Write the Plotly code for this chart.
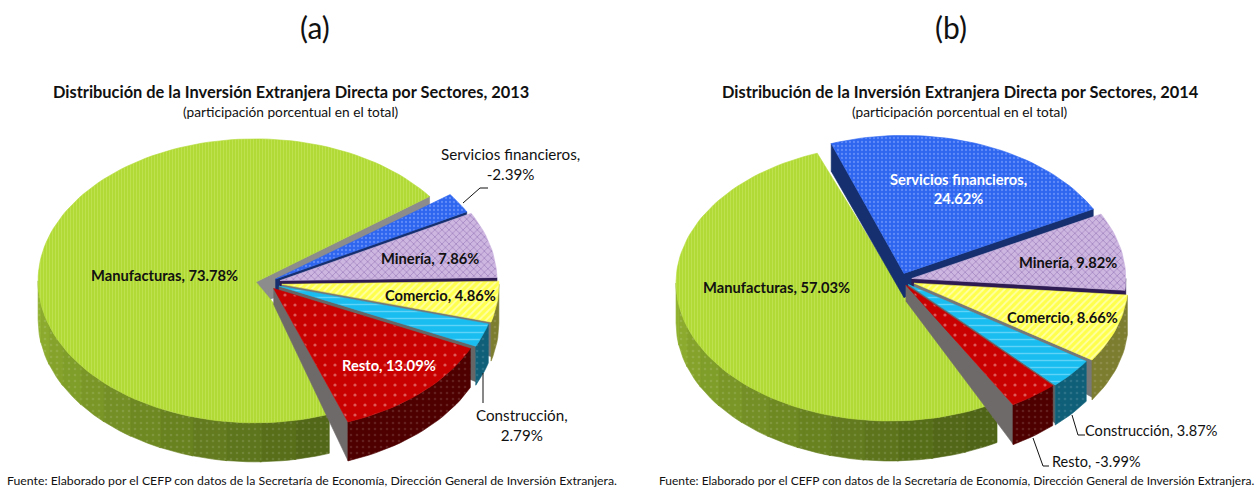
import math
import plotly.graph_objects as go

# ---- data ----
categories = ["Manufacturas", "Servicios financieros", "Minería", "Comercio", "Construcción", "Resto"]
values_2013 = [73.78, -2.39, 7.86, 4.86, 2.79, 13.09]
values_2014 = [57.03, 24.62, 9.82, 8.66, 3.87, -3.99]
panel_marks = ["(a)", "(b)"]
chart_titles = ["Distribución de la Inversión Extranjera Directa por Sectores, 2013",
                "Distribución de la Inversión Extranjera Directa por Sectores, 2014"]
subtitle = "(participación porcentual en el total)"
source = "Fuente: Elaborado por el CEFP con datos de la Secretaría de Economía, Dirección General de Inversión Extranjera."

# ---- styles per category ----
top_colors = ["#b2da36", "#2f66f0", "#cdb6e0", "#ffff4d", "#19bdf0", "#c80000"]
wall_colors = ["#6f8c22", "#1c3a8c", "#2d1b52", "#7d7d30", "#0f5f78", "#4e0000"]
face_colors = ["#8c8c8c", "#16306f", "#2d1b52", "#777777", "#666666", "#6e6a6a"]
patterns = [
    dict(shape="|", fgcolor="#c9e86a", size=3, solidity=0.35),
    dict(shape=".", fgcolor="#8fb0ff", size=4, solidity=0.25),
    dict(shape="x", fgcolor="#7e5aa6", size=5, solidity=0.3),
    dict(shape="/", fgcolor="#ffffff", size=5, solidity=0.35),
    dict(shape="-", fgcolor="#a8ecff", size=7, solidity=0.2),
    dict(shape=".", fgcolor="#f4b0b0", size=10, solidity=0.08),
]
wall_pattern = dict(shape=".", fgcolor="#ffffff", fgopacity=0.12, size=6, solidity=0.15)

# ---- panel geometry (pixels of the page) ----
panels = [
    dict(values=values_2013, cx=266, cy=283, rx=217, ry=142, depth=39,
         explode=[11.4, 11.4, 14.5, 16, 14, 11.4], start=-70.0, main_apex=(256, 282), notch=(276, 306)),
    dict(values=values_2014, cx=900, cy=280, rx=214, ry=138, depth=40,
         explode=[11, 11, 12, 15, 11, 10], start=-60.0, main_apex=(905, 297), notch=None),
]

fig = go.Figure()


def mix(c1, c2, t):
    a = [int(c1[i:i + 2], 16) for i in (1, 3, 5)]
    b = [int(c2[i:i + 2], 16) for i in (1, 3, 5)]
    return "#%02x%02x%02x" % tuple(round(a[i] + (b[i] - a[i]) * t) for i in range(3))


def poly(xs, ys, color, name, pattern=None):
    fig.add_trace(go.Scatter(
        x=xs + xs[:1], y=ys + ys[:1], mode="lines", fill="toself", fillcolor=color,
        line=dict(color=color, width=0.6), fillpattern=pattern,
        name=name, hoverinfo="skip", showlegend=False))


def arc(c, r, a0, a1):
    n = max(2, int(abs(a0 - a1) / 2) + 1)
    out = []
    for i in range(n + 1):
        a = math.radians(a0 + (a1 - a0) * i / n)
        out.append((c[0] + r[0] * math.cos(a), c[1] - r[1] * math.sin(a)))
    return out


def draw_pie(pn):
    vals = pn["values"]
    total = sum(abs(v) for v in vals)
    a = pn["start"]
    r = (pn["rx"], pn["ry"])
    d = pn["depth"]
    ratio = pn["ry"] / pn["rx"]
    # clockwise from the start angle, in the order of the sectors
    for i, v in enumerate(vals):
        a0 = a
        a1 = a - abs(v) / total * 360
        a = a1
        mid = math.radians((a0 + a1) / 2)
        ex = pn["explode"][i]
        c = (pn["cx"] + ex * math.cos(mid), pn["cy"] - ex * ratio * math.sin(mid))
        apex = pn["main_apex"] if i == 0 else c
        name = categories[i]
        # cut faces: shallow at the apex, as deep as the rim further out
        for edge, visible in ((a0, math.cos(math.radians(a0)) < 0),
                              (a1, math.cos(math.radians(a1)) > 0)):
            if visible:
                s = math.sin(math.radians(edge))
                e = (c[0] + r[0] * math.cos(math.radians(edge)), c[1] - r[1] * s)
                rim_d = d * (1 - 0.16 * (1 + s))
                apex_d = 24 if s > 0 else 16
                poly([apex[0], e[0], e[0], apex[0]], [apex[1], e[1], e[1] + rim_d, apex[1] + apex_d],
                     face_colors[i], name + " cara")
        # outer wall: only the part below the horizontal is seen
        for base in (0, -360):
            hi = min(a0, base)
            lo = max(a1, base - 180)
            if hi <= lo:
                continue
            steps = max(1, int((hi - lo) / 9)) if i == 0 else 1
            for s in range(steps):
                h = hi - (hi - lo) * s / steps
                l = hi - (hi - lo) * (s + 1) / steps - (0.4 if s < steps - 1 else 0)
                pts = arc(c, r, h, l)
                xs = [p[0] for p in pts] + [p[0] for p in reversed(pts)]
                ys = [p[1] for p in pts] + [p[1] + d for p in reversed(pts)]
                col = wall_colors[i]
                if i == 0:
                    # lit at the left, darker towards the front
                    frac = min(1, max(0, ((h + l) / 2 - (base - 180)) / 110))
                    col = mix("#93b431", "#4f6416", frac)
                poly(xs, ys, col, name + " pared", pattern=wall_pattern)
        # top
        pts = [apex] + ([pn["notch"]] if i == 0 and pn["notch"] else []) + arc(c, r, a0, a1)
        poly([p[0] for p in pts], [p[1] for p in pts], top_colors[i], name, pattern=patterns[i])


for pn in panels:
    draw_pie(pn)

# leader lines
leaders = [
    ([463, 480, 488], [203, 188, 188]),
    ([483, 483], [373, 403]),
    ([1072, 1078, 1085], [415, 435, 435]),
    ([1033, 1043, 1049], [438, 466, 466]),
]
for lx, ly in leaders:
    fig.add_trace(go.Scatter(x=lx, y=ly, mode="lines", line=dict(color="#111111", width=1),
                             hoverinfo="skip", showlegend=False))

FONT = "Lato"


def label(x, y, text, size=14.7, color="#111111", bold=False):
    fig.add_annotation(x=x, y=y, xref="x", yref="y", text=f"<b>{text}</b>" if bold else text,
                       showarrow=False, xanchor="center", yanchor="middle",
                       font=dict(family=FONT, size=size, color=color))


def pct(v):
    return f"{v:.2f}%"


# panel marks and titles
for x, mark in zip((315, 951), panel_marks):
    label(x, 27, mark, size=30)
for x, t in zip((291, 960), chart_titles):
    label(x, 91, t, size=16.4, bold=True)
for x in (291, 960):
    label(x, 111, subtitle, size=13.7)
label(312, 480, source, size=12.3)
label(956.5, 480, source, size=12)

# slice labels, 2013
v = dict(zip(categories, values_2013))
label(164, 275, f"Manufacturas, {pct(v['Manufacturas'])}", bold=True)
label(510, 164, f"Servicios financieros,<br>{pct(v['Servicios financieros'])}", size=15.2)
label(430, 258, f"Minería, {pct(v['Minería'])}", bold=True)
label(440, 295, f"Comercio, {pct(v['Comercio'])}", bold=True)
label(389, 365, f"Resto, {pct(v['Resto'])}", bold=True, color="#ffffff")
label(522, 425, f"Construcción,<br>{pct(v['Construcción'])}", size=15.2)

# slice labels, 2014
v = dict(zip(categories, values_2014))
label(776, 287, f"Manufacturas, {pct(v['Manufacturas'])}", bold=True)
label(958, 188, f"Servicios financieros,<br>{pct(v['Servicios financieros'])}", bold=True, color="#ffffff")
label(1068, 262, f"Minería, {pct(v['Minería'])}", bold=True)
label(1062, 317, f"Comercio, {pct(v['Comercio'])}", bold=True)
label(1151.5, 430, f"Construcción, {pct(v['Construcción'])}", size=14.6)
label(1096, 461, f"Resto, {pct(v['Resto'])}", size=14.5)

fig.update_layout(
    width=1255, height=487, margin=dict(l=0, r=0, t=0, b=0),
    paper_bgcolor="white", plot_bgcolor="white", showlegend=False,
    font=dict(family=FONT),
    xaxis=dict(range=[0, 1255], visible=False, fixedrange=True),
    yaxis=dict(range=[487, 0], visible=False, fixedrange=True),
)
fig.write_html("out.html", post_script="document.body.style.margin='0';", config=dict(displayModeBar=False))
